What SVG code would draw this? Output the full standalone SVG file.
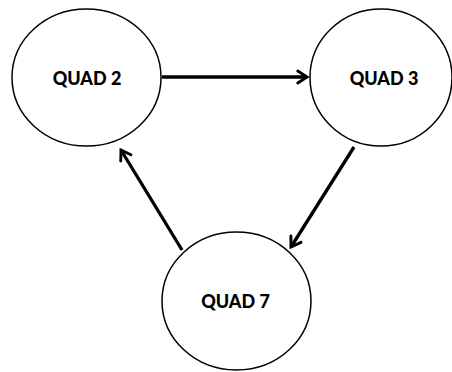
<svg xmlns="http://www.w3.org/2000/svg" width="452" height="372" viewBox="0 0 452 372">
<style>
.node ellipse{fill:#fff;stroke:#000;stroke-width:1.5}
.node text{font-family:Lato,"Liberation Sans",sans-serif;font-weight:900;font-size:18px;text-anchor:middle;fill:#000}
.edge{stroke:#000;stroke-width:3.3;fill:none;marker-end:url(#arr)}
</style>
<defs>
<marker id="arr" viewBox="0 0 12 12" refX="10" refY="6" markerWidth="4.8" markerHeight="4.8" orient="auto" markerUnits="strokeWidth">
<path d="M3,1.5 L10,6 L3,10.5" fill="none" stroke="#000" stroke-width="2.2" stroke-linecap="round" stroke-linejoin="miter"/>
</marker>
</defs>
<g id="n2" class="node"><ellipse cx="86.5" cy="77.5" rx="74.5" ry="68.5"/><text x="87" y="85">QUAD 2</text></g>
<g id="n3" class="node"><ellipse cx="381" cy="77.5" rx="71" ry="68.5"/><text x="384" y="85">QUAD 3</text></g>
<g id="n7" class="node"><ellipse cx="236.5" cy="301" rx="74.5" ry="69"/><text x="235.5" y="308">QUAD 7</text></g>
<g id="edges">
<line class="edge" x1="162" y1="77" x2="307" y2="77"/>
<line class="edge" x1="354" y1="147" x2="291" y2="247"/>
<line class="edge" x1="182" y1="250" x2="121" y2="150"/>
</g>
</svg>
